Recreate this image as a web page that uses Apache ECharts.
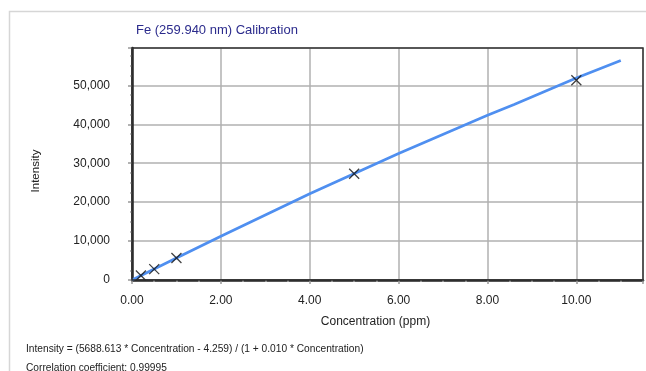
<!DOCTYPE html>
<html>
<head>
<meta charset="utf-8">
<script src="https://cdn.jsdelivr.net/npm/echarts@6/dist/echarts.min.js"></script>
<style>
  html, body { margin: 0; padding: 0; background: #fff; }
  #main { width: 646px; height: 371px; }
</style>
</head>
<body>
<div id="main"></div>
<script>
// standards (ppm) and measured intensity
const stdConc = [0.2, 0.5, 1.0, 5.0, 10.0];
const stdIntensity = [1150, 2800, 5650, 27300, 51300];

// fitted curve
const fitConc = [0, 1, 2, 4, 6, 8, 8.6, 10, 11];
const fitIntensity = [0, 5630, 11250, 22150, 32500, 42300, 45100, 51900, 56400];

const xTicks = [0, 2, 4, 6, 8, 10];
const yTicks = [0, 10000, 20000, 30000, 40000, 50000];

const chart = echarts.init(document.getElementById('main'), null, {renderer: 'canvas'});

const font = 'Liberation Sans, Arial, sans-serif';

chart.setOption({
  animation: false,
  textStyle: {fontFamily: font},
  title: {
    text: 'Fe (259.940 nm) Calibration',
    left: 131,
    top: 19,
    textStyle: {color: '#2b2b8c', fontSize: 13, fontWeight: 'normal', fontFamily: font}
  },
  grid: {left: 132, right: 3, top: 48, bottom: 91, containLabel: false},
  xAxis: {
    type: 'value',
    min: 0,
    max: 11.5,
    interval: 2,
    name: 'Concentration (ppm)',
    nameLocation: 'middle',
    nameGap: 36,
    nameTextStyle: {color: '#222', fontSize: 12, fontFamily: font, padding: [0, 24, 0, 0]},
    axisLine: {onZero: false, lineStyle: {color: '#222', width: 2.5}},
    axisTick: {show: true, length: 4, lineStyle: {color: '#999', width: 1.5}},
    minorTick: {show: true, splitNumber: 4, length: 2, lineStyle: {color: '#aaa', width: 1.5}},
    axisLabel: {
      color: '#222', fontSize: 12, margin: 15, fontFamily: font,
      formatter: v => xTicks.includes(v) ? v.toFixed(2) : ''
    },
    splitLine: {show: true, lineStyle: {color: '#b0b0b0', width: 1.5}}
  },
  yAxis: {
    type: 'value',
    min: 0,
    max: 59600,
    interval: 10000,
    name: 'Intensity',
    nameLocation: 'middle',
    nameGap: 90,
    nameTextStyle: {color: '#222', fontSize: 11.5, fontFamily: font, padding: [0, 14, 0, 0]},
    axisLine: {onZero: false, lineStyle: {color: '#222', width: 2.5}},
    axisTick: {show: true, length: 4, lineStyle: {color: '#999', width: 1.5}},
    minorTick: {show: true, splitNumber: 4, length: 2, lineStyle: {color: '#aaa', width: 1.5}},
    axisLabel: {
      color: '#222', fontSize: 12, margin: 22, fontFamily: font,
      formatter: v => yTicks.includes(v) ? v.toLocaleString('en-US') : ''
    },
    splitLine: {show: true, lineStyle: {color: '#b0b0b0', width: 1.5}}
  },
  graphic: [
    // light frame round the whole figure
    {type: 'rect', silent: true, shape: {x: 9.5, y: 11.5, width: 700, height: 400},
      style: {fill: 'none', stroke: '#d6d6d6', lineWidth: 1.5}},
    // plot box
    {type: 'rect', silent: true, z: 10, shape: {x: 132, y: 48, width: 511, height: 232},
      style: {fill: 'none', stroke: '#333', lineWidth: 1.5}},
    {type: 'text', left: 26, top: 344,
      style: {text: 'Intensity = (5688.613 * Concentration - 4.259) / (1 + 0.010 * Concentration)',
        fill: '#222', font: '10.2px ' + font}},
    {type: 'text', left: 26, top: 363,
      style: {text: 'Correlation coefficient: 0.99995', fill: '#222', font: '10.2px ' + font}}
  ],
  series: [
    {
      type: 'line',
      data: fitConc.map((c, i) => [c, fitIntensity[i]]),
      showSymbol: false,
      smooth: false,
      lineStyle: {color: '#4f8ff0', width: 2.7},
      z: 3
    },
    {
      type: 'scatter',
      data: stdConc.map((c, i) => [c, stdIntensity[i]]),
      symbol: 'path://M0,0L10,10M10,0L0,10',
      symbolSize: 10,
      itemStyle: {color: 'rgba(0,0,0,0)', borderColor: '#111', borderWidth: 1.3},
      z: 4
    }
  ]
});
</script>
</body>
</html>
